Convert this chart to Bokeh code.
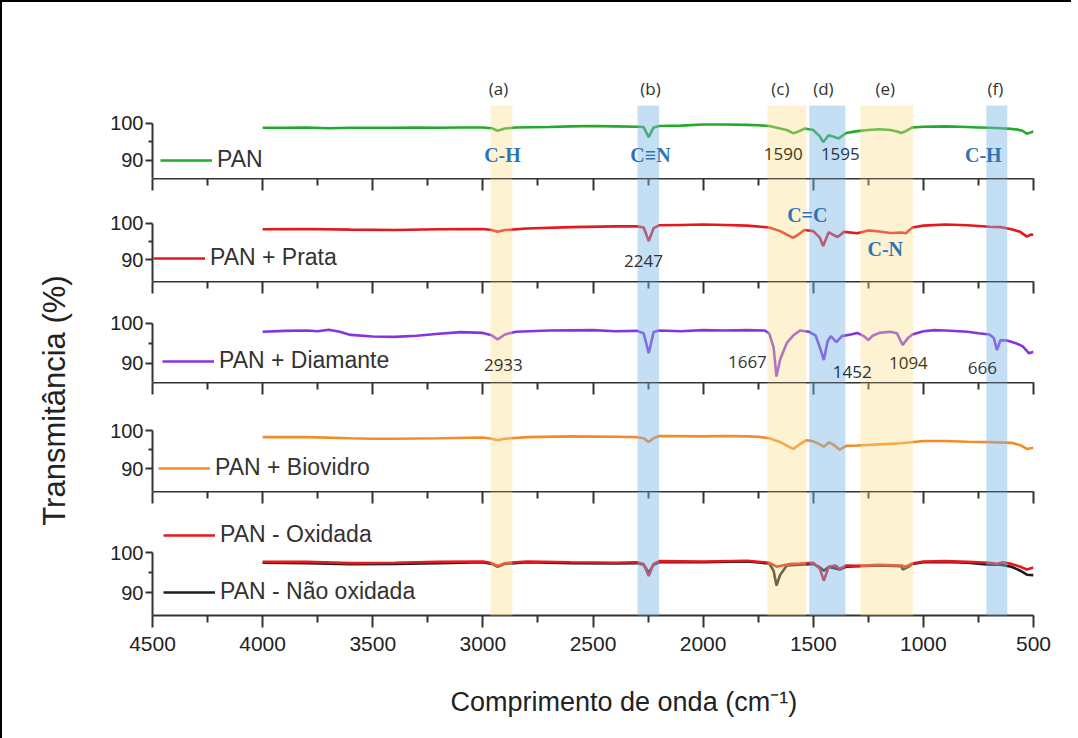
import math
from bokeh.plotting import figure
from bokeh.layouts import row, column
from bokeh.models import (Range1d, FixedTicker, LinearAxis, Legend, LegendItem, ColumnDataSource,
                          CustomLabelingPolicy, Title)
from bokeh.core.properties import value
from bokeh.embed import file_html
from bokeh.resources import INLINE

# ---------------- data (wavenumber cm-1, transmittance %) ----------------
wn_pan = [4000, 3900, 3800, 3700, 3600, 3500, 3400, 3300, 3200, 3100, 3000, 2960, 2933, 2900, 2850,
          2700, 2600, 2500, 2400, 2300, 2270, 2247, 2225, 2200, 2100, 2000, 1900, 1800, 1750, 1700,
          1650, 1620, 1590, 1560, 1540, 1500, 1470, 1455, 1430, 1415, 1385, 1350, 1300, 1250, 1200,
          1150, 1120, 1100, 1080, 1050, 1000, 900, 800, 750, 700, 650, 600, 570, 550, 530, 515, 500]
t_pan = [98.8, 98.8, 98.9, 98.7, 98.8, 98.8, 98.8, 98.9, 98.8, 98.9, 98.9, 98.7, 98.0, 98.6, 98.9,
         99.0, 99.2, 99.3, 99.2, 99.1, 99.0, 96.3, 98.9, 99.3, 99.4, 99.7, 99.7, 99.6, 99.5, 99.3,
         98.6, 98.2, 97.3, 98.0, 98.6, 98.2, 96.5, 94.9, 96.8, 96.5, 95.9, 97.4, 97.9, 98.2, 98.4,
         98.2, 97.8, 97.4, 97.9, 98.9, 99.1, 99.2, 99.0, 98.9, 98.8, 98.7, 98.5, 98.3, 98.0, 97.2, 97.5, 97.8]

wn_prata = [4000, 3800, 3600, 3400, 3200, 3000, 2960, 2933, 2900, 2800, 2600, 2400, 2300, 2270, 2247,
            2225, 2200, 2100, 2000, 1900, 1800, 1700, 1650, 1600, 1590, 1560, 1540, 1500, 1470, 1455,
            1430, 1410, 1390, 1360, 1300, 1250, 1200, 1150, 1100, 1080, 1050, 1000, 900, 800, 700,
            650, 600, 560, 530, 510, 500]
t_prata = [98.3, 98.4, 98.2, 98.1, 98.3, 98.4, 98.1, 97.6, 98.1, 98.5, 98.9, 99.1, 99.1, 98.8, 95.1,
           98.6, 99.4, 99.5, 99.6, 99.5, 99.3, 98.8, 97.8, 96.2, 96.0, 97.2, 98.1, 97.8, 96.0, 93.7,
           97.5, 96.8, 96.2, 97.6, 97.2, 98.0, 97.7, 97.3, 97.4, 97.2, 98.8, 99.3, 99.6, 99.4, 99.0,
           98.9, 98.3, 97.6, 96.3, 96.9, 96.8]

wn_diam = [4000, 3900, 3800, 3750, 3700, 3650, 3600, 3500, 3400, 3300, 3200, 3100, 3000, 2960, 2933,
           2900, 2850, 2700, 2500, 2400, 2300, 2270, 2247, 2225, 2200, 2100, 2000, 1900, 1800, 1720,
           1700, 1680, 1667, 1650, 1620, 1590, 1560, 1520, 1490, 1470, 1452, 1435, 1420, 1395, 1370,
           1330, 1300, 1270, 1250, 1230, 1200, 1150, 1120, 1094, 1070, 1050, 1000, 950, 900, 800,
           750, 700, 680, 666, 650, 620, 580, 550, 520, 500]
t_diam = [97.9, 98.1, 98.2, 98.0, 98.4, 97.9, 97.1, 96.7, 96.6, 96.9, 97.4, 97.8, 97.6, 97.0, 96.0,
          97.2, 97.9, 98.2, 98.3, 98.0, 98.1, 97.5, 92.5, 97.8, 98.2, 98.0, 98.3, 98.2, 98.3, 98.2,
          97.5, 94.0, 86.7, 91.0, 95.1, 97.0, 98.2, 97.9, 97.0, 94.0, 90.8, 95.5, 96.8, 95.3, 96.8,
          97.2, 97.6, 96.8, 95.8, 96.9, 97.6, 97.9, 97.5, 94.6, 96.3, 97.2, 98.0, 98.3, 98.2, 97.9,
          97.5, 97.2, 96.3, 93.3, 95.8, 95.7, 95.0, 94.3, 92.5, 92.9]

wn_bio = [4000, 3800, 3600, 3500, 3400, 3200, 3000, 2960, 2933, 2900, 2800, 2600, 2400, 2300, 2270,
          2247, 2225, 2200, 2000, 1900, 1800, 1750, 1700, 1650, 1600, 1590, 1560, 1530, 1500, 1470,
          1452, 1430, 1410, 1380, 1350, 1300, 1200, 1100, 1000, 900, 800, 700, 600, 560, 530, 500]
t_bio = [98.3, 98.3, 98.0, 97.9, 97.9, 98.0, 98.2, 97.9, 97.5, 97.9, 98.3, 98.5, 98.4, 98.3, 98.0,
         97.0, 98.0, 98.6, 98.5, 98.6, 98.5, 98.4, 98.0, 97.0, 95.5, 95.2, 96.5, 97.5, 97.2, 96.4,
         95.8, 96.9, 96.4, 95.0, 96.0, 96.1, 96.4, 96.7, 97.3, 97.3, 97.1, 97.0, 96.8, 96.2, 95.2, 95.5]

wn_oxi = [4000, 3800, 3600, 3400, 3200, 3000, 2960, 2933, 2900, 2800, 2600, 2400, 2300, 2270, 2247,
          2225, 2200, 2000, 1800, 1700, 1667, 1640, 1600, 1560, 1500, 1470, 1452, 1430, 1400, 1380,
          1350, 1300, 1200, 1100, 1080, 1050, 1000, 900, 800, 700, 666, 640, 600, 560, 530, 500]
t_oxi = [97.7, 97.7, 97.4, 97.5, 97.7, 97.8, 97.4, 96.7, 97.4, 97.8, 97.6, 97.5, 97.6, 97.2, 94.2,
         97.2, 97.9, 97.8, 98.0, 97.5, 96.5, 96.8, 97.2, 97.3, 97.5, 96.0, 93.0, 96.5, 96.8, 96.0,
         96.8, 96.7, 97.0, 96.8, 96.5, 97.3, 97.8, 97.9, 97.7, 97.5, 97.2, 97.6, 97.2, 96.5, 95.8, 96.3]

wn_naoxi = [4000, 3800, 3600, 3400, 3200, 3000, 2960, 2933, 2900, 2800, 2600, 2400, 2300, 2270, 2247,
            2225, 2200, 2000, 1800, 1700, 1680, 1667, 1650, 1620, 1560, 1500, 1470, 1452, 1430, 1380,
            1350, 1300, 1200, 1100, 1094, 1070, 1050, 1000, 900, 800, 700, 650, 600, 560, 530, 500]
t_naoxi = [97.5, 97.4, 97.1, 97.2, 97.4, 97.6, 97.2, 96.5, 97.2, 97.6, 97.4, 97.3, 97.4, 97.0, 95.0,
           97.0, 97.6, 97.6, 97.8, 97.3, 95.5, 91.8, 94.5, 96.8, 97.0, 97.2, 96.3, 95.5, 96.4, 95.8,
           96.5, 96.6, 96.8, 96.6, 95.8, 96.4, 97.2, 97.6, 97.7, 97.5, 97.0, 97.0, 96.5, 95.5, 94.5, 94.4]

series_labels = ["PAN", "PAN + Prata", "PAN + Diamante", "PAN + Biovidro", "PAN - Oxidada", "PAN - Não oxidada"]
series_colors = ["#22AA28", "#E3191E", "#8535E0", "#F28C28", "#E3191E", "#1E1E1E"]

x_major = [4500, 4000, 3500, 3000, 2500, 2000, 1500, 1000, 500]
x_minor = [4250, 3750, 3250, 2750, 2250, 1750, 1250, 750]
y_major = [90, 100]
y_minor = [95]

band_lo = [2866, 2200, 1531, 1354, 1046, 619]
band_hi = [2966, 2298, 1708, 1518, 1286, 714]
band_kind = ["y", "b", "y", "b", "y", "b"]
band_tags = ["(a)", "(b)", "(c)", "(d)", "(e)", "(f)"]
band_tag_x = [2929, 2239, 1649, 1454, 1173, 673]

x_title = "Comprimento de onda (cm⁻¹)"
y_title = "Transmitância (%)"

# annotations per panel: (wavenumber, transmittance, text, colour, style)
ann_p1 = [(2911, 91.4, "C-H", "#2E74B5", "bond"), (2239, 91.4, "C≡N", "#2E74B5", "bond"),
          (1636, 91.6, "1590", "#3E3A18", "num"), (1377, 91.6, "1595", "#1F3552", "num"),
          (728, 91.4, "C-H", "#2E74B5", "bond")]
ann_p2 = [(1527, 102.3, "C=C", "#2E74B5", "bond"), (2271, 89.6, "2247", "#333333", "num"),
          (1173, 92.9, "C-N", "#2E74B5", "bond")]
ann_p3 = [(2907, 89.6, "2933", "#333333", "num"), (1799, 90.3, "1667", "#333333", "num"),
          (1323, 87.9, "1452", "#1F3045", "num"), (1068, 90.0, "1094", "#3D3A16", "num"),
          (732, 88.8, "666", "#2D3A4A", "num")]

# ---------------- layout constants ----------------
FRAME_W = 881
LABEL_W = 74
SANS = "Liberation Sans"
xr = Range1d(4500, 500)

# (frame height, y start, y end)
panel_geo = [(103, 85.1, 85.1 + 103 / 3.7),
             (103, 84.0, 84.0 + 103 / 3.65),
             (101, 85.2, 85.2 + 101 / 4.0),
             (109, 84.0, 84.0 + 109 / 3.8),
             (124, 84.3, 84.3 + 124 / 4.0)]


def x_axis(side):
    ax = LinearAxis(ticker=FixedTicker(ticks=x_major, minor_ticks=x_minor))
    ax.axis_line_color = "#333333"
    ax.axis_line_width = 2
    ax.major_tick_line_color = "#333333"
    ax.major_tick_line_width = 2
    ax.minor_tick_line_color = "#333333"
    ax.minor_tick_line_width = 2
    if side == "above":
        ax.major_tick_in = 12
        ax.major_tick_out = 0
        ax.minor_tick_in = 7
        ax.minor_tick_out = 0
        ax.major_label_policy = CustomLabelingPolicy(
            code="for (const i of indices) indices.unset(i); return indices")
        ax.major_label_text_font_size = "0px"
        ax.major_label_standoff = 0
    else:
        ax.major_tick_in = 0
        ax.major_tick_out = 12
        ax.minor_tick_in = 0
        ax.minor_tick_out = 7
        ax.major_label_text_font_size = "21px"
        ax.major_label_text_font = SANS
        ax.major_label_text_color = "#222222"
        ax.major_label_standoff = 9
    return ax


def make_panel(k):
    fh, y0, y1 = panel_geo[k]
    p = figure(frame_width=FRAME_W, frame_height=fh, x_range=xr, y_range=Range1d(y0, y1),
               output_backend="svg", toolbar_location=None, x_axis_location=None,
               y_axis_location="left", min_border=0, min_border_left=76, min_border_right=38,
               min_border_top=(73 if k == 0 else 0), min_border_bottom=(118 if k == 4 else 0),
               outline_line_color=None, background_fill_color="white", border_fill_color="white")
    p.grid.visible = False
    ya = p.yaxis[0]
    ya.ticker = FixedTicker(ticks=y_major, minor_ticks=y_minor)
    ya.bounds = (y0, 100)
    ya.axis_line_color = "#333333"
    ya.axis_line_width = 2
    ya.major_tick_line_color = "#333333"
    ya.major_tick_line_width = 2
    ya.minor_tick_line_color = "#333333"
    ya.minor_tick_line_width = 2
    ya.major_tick_in = 0
    ya.major_tick_out = 7
    ya.minor_tick_in = 0
    ya.minor_tick_out = 4
    ya.major_label_text_font = SANS
    ya.major_label_text_font_size = "20px"
    ya.major_label_text_color = "#222222"
    ya.major_label_standoff = 2
    if k > 0:
        p.add_layout(x_axis("above"), "above")
    if k == 4:
        p.add_layout(x_axis("below"), "below")
        p.add_layout(Title(text=x_title, align="left", offset=298, standoff=63,
                           text_font=SANS, text_font_size="27px", text_font_style="normal",
                           text_color="#222222"), "below")
    return p


panels = [make_panel(k) for k in range(5)]
spectra = [(wn_pan, t_pan), (wn_prata, t_prata), (wn_diam, t_diam), (wn_bio, t_bio)]
legend_locs = [(8, 5), (1, 10), (10, 8), (6, 10)]

for k in range(4):
    p = panels[k]
    wn, tt = spectra[k]
    r = p.line(wn, tt, line_color=series_colors[k], line_width=2.6)
    leg = Legend(items=[LegendItem(label=series_labels[k], renderers=[r])], location=legend_locs[k])
    p.add_layout(leg)

# last panel: two series
p5 = panels[4]
r_nao = p5.line(wn_naoxi, t_naoxi, line_color=series_colors[5], line_width=2.6)
r_oxi = p5.line(wn_oxi, t_oxi, line_color=series_colors[4], line_width=2.6)
leg5 = Legend(items=[LegendItem(label=series_labels[4], renderers=[r_oxi]),
                     LegendItem(label=series_labels[5], renderers=[r_nao])],
              location=(11, 10), spacing=30)
p5.add_layout(leg5)

for p in panels:
    for lg in p.legend:
        lg.border_line_color = None
        lg.background_fill_alpha = 0
        lg.padding = 0
        lg.margin = 0
        lg.glyph_width = 52
        lg.glyph_height = 24
        lg.label_height = 24
        lg.label_standoff = 5
        lg.label_text_font = SANS
        lg.label_text_font_size = "23px"
        lg.label_text_color = "#333333"

# shaded bands on every panel
band_colors = ["#FBDD88" if c == "y" else "#7DB5E4" for c in band_kind]
band_alpha = [0.38 if c == "y" else 0.45 for c in band_kind]
for k, p in enumerate(panels):
    fh, y0, y1 = panel_geo[k]
    top = 104.8 if k == 0 else y1
    src = ColumnDataSource(dict(l=band_hi, r=band_lo, b=[y0] * len(band_lo), t=[top] * len(band_lo),
                                c=band_colors, a=band_alpha))
    q = p.quad(left="l", right="r", bottom="b", top="t", fill_color="c", fill_alpha="a",
               line_color=None, source=src)
    q.level = "annotation"

# band tags (a)..(f)
panels[0].text(x=band_tag_x, y=[109.4] * len(band_tag_x), text=band_tags,
               text_font=value("Open Sans"), text_font_size="17px", text_color="#333333",
               text_align="center", text_baseline="middle")

# peak / bond annotations (drawn above the bands)
for p, ann in zip(panels[:3], [ann_p1, ann_p2, ann_p3]):
    for style in ("bond", "num"):
        sel = [a for a in ann if a[4] == style]
        if not sel:
            continue
        src = ColumnDataSource(dict(x=[a[0] for a in sel], y=[a[1] for a in sel],
                                    t=[a[2] for a in sel], c=[a[3] for a in sel]))
        if style == "bond":
            tr = p.text(x="x", y="y", text="t", text_color="c", source=src,
                        text_font=value("Liberation Serif"), text_font_style="bold",
                        text_font_size="20px", text_align="center", text_baseline="middle")
        else:
            tr = p.text(x="x", y="y", text="t", text_color="c", source=src,
                        text_font=value("Open Sans"), text_font_size="17px",
                        text_align="center", text_baseline="middle")
        tr.level = "annotation"

# y-axis title in a narrow figure on the left
H = 732
lf = figure(width=LABEL_W, height=H, x_range=Range1d(0, LABEL_W), y_range=Range1d(0, H),
            output_backend="svg", toolbar_location=None, min_border=0,
            outline_line_color=None, x_axis_location=None, y_axis_location=None)
lf.grid.visible = False
lf.text(x=[52], y=[H - 398], text=[y_title], angle=math.pi / 2,
        text_font=value(SANS), text_font_size="31px", text_color="#222222",
        text_align="center", text_baseline="middle")

layout = row(lf, column(*panels, spacing=0), spacing=0,
             styles={"border-left": "2px solid black", "border-top": "2px solid black"})

open("out.html", "w").write(file_html(layout, INLINE))
